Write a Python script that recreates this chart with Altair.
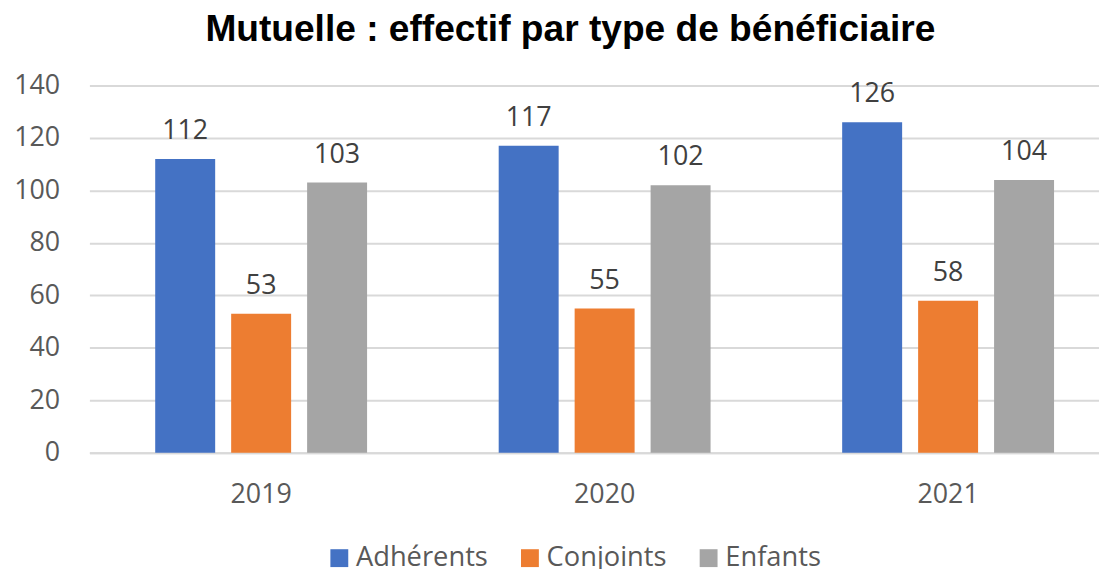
import altair as alt
import pandas as pd

years = ["2019", "2020", "2021"]
series = ["Adhérents", "Conjoints", "Enfants"]
adherents = [112, 117, 126]
conjoints = [53, 55, 58]
enfants = [103, 102, 104]
colors = ["#4472C4", "#ED7D31", "#A5A5A5"]

rows = []
for name, vals in zip(series, [adherents, conjoints, enfants]):
    for y, v in zip(years, vals):
        rows.append({"year": y, "type": name, "value": v})
df = pd.DataFrame(rows)

base = alt.Chart(df).encode(
    x=alt.X(
        "year:N",
        sort=years,
        scale=alt.Scale(range=[0, 1038], paddingInner=0.3366, paddingOuter=0.1683),
        axis=alt.Axis(
            title=None, labelAngle=0, ticks=False, domain=True,
            domainColor="#D9D9D9", domainWidth=2,
            labelFont="Open Sans", labelFontSize=27, labelColor="#595959",
            labelPadding=29, grid=False,
        ),
    ),
    xOffset=alt.XOffset(
        "type:N", sort=series,
        scale=alt.Scale(paddingInner=16 / 76, paddingOuter=8 / 76),
    ),
    y=alt.Y(
        "value:Q",
        scale=alt.Scale(domain=[0, 140], nice=False),
        axis=alt.Axis(
            title=None, values=[0, 20, 40, 60, 80, 100, 120, 140],
            ticks=False, domain=False, grid=True,
            gridColor="#D9D9D9", gridWidth=2,
            labelFont="Open Sans", labelFontSize=27, labelColor="#595959",
            labelPadding=30,
        ),
    ),
)

bars = base.mark_bar().encode(
    color=alt.Color(
        "type:N",
        sort=series,
        scale=alt.Scale(domain=series, range=colors),
        legend=alt.Legend(
            title=None, orient="none", direction="horizontal",
            legendX=238, legendY=462, padding=0,
            symbolType="square", symbolSize=324, symbolStrokeWidth=0,
            labelFont="Open Sans", labelFontSize=27.5, labelColor="#595959",
            labelOffset=3, columnPadding=28, symbolOpacity=1,
        ),
    )
)

labels = base.mark_text(
    font="Open Sans", fontSize=27, color="#404040",
    baseline="alphabetic", dy=-20,
).encode(text="value:Q")

chart = (
    (bars + labels)
    .properties(
        width=1017,
        height=370,
        autosize=alt.AutoSizeParams(type="none"),
        padding={"left": 82, "top": 76, "right": 0, "bottom": 115},
        title=alt.TitleParams(
            "Mutuelle : effectif par type de bénéficiaire",
            font="Liberation Sans", fontSize=37.4, fontWeight="bold",
            color="#000000", anchor="middle", offset=23, dx=-24,
        ),
    )
    .configure_view(stroke=None)
)

chart.save("out.html", embed_options={"renderer": "svg", "actions": False})
